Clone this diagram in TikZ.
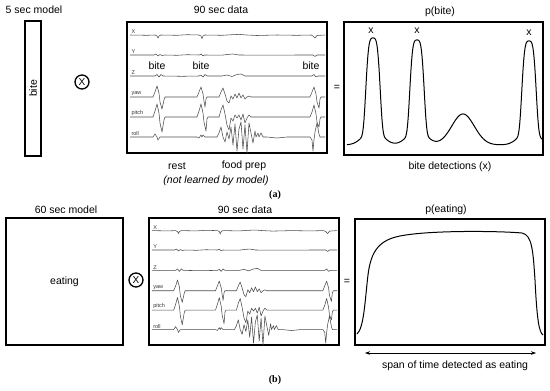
\documentclass[tikz,border=0pt]{standalone}
\usepackage{fontspec}
\setmainfont{Liberation Sans}
\newfontfamily\capfont{Liberation Serif}
\usetikzlibrary{arrows.meta}
\newcommand\datatraces[1]{%
  \foreach \yy/\lab in {13/X,33/Y,54/Z,75/yaw,95/pitch,115/roll}{
    \node[chan] (#1\lab) at (4,\yy-0.6) {\lab};
  }
  % X
  \begin{scope}[shift={(0,13)}]
  \draw[trace] plot coordinates {(3,0) (20,0.3) (28,0) (30,1) (31,3) (32,1) (34,0) (50,0.3) (60,-0.3) (72,0) (74,1) (75,3.5) (76,1) (78,0) (95,0.3) (105,-0.3) (112,-0.6) (120,0) (130,0.5) (150,0) (170,0.3) (184,0) (186,1) (188,3) (190,0.5) (198,0)};
  \end{scope}
  % Y
  \begin{scope}[shift={(0,33)}]
  \draw[trace] plot coordinates {(3,0) (27,0) (29,-1) (31,1) (33,-0.5) (35,0.5) (38,0) (50,0.3) (60,-0.3) (72,0) (74,-0.8) (76,0.8) (78,0) (95,0.2) (100,-0.5) (106,-1) (112,0) (150,0.2) (170,0) (186,0) (188,1.5) (190,0) (198,0)};
  \end{scope}
  % Z
  \begin{scope}[shift={(0,54)}]
  \draw[trace] plot coordinates {(3,0) (28,0) (30,-1.5) (32,1) (34,-1.5) (36,0) (55,0.3) (72,0) (74,-1) (76,1) (78,-1.5) (80,0) (95,0) (100,-1) (105,0.5) (110,-1.5) (114,-2) (118,0) (150,0) (185,0) (187,-1.5) (189,1) (191,0) (198,0)};
  \end{scope}
  % yaw
  \begin{scope}[shift={(0,75)}]
  \draw[trace] plot coordinates {(3,0) (26,0) (28,-5) (30,-11) (32,-4) (33,5) (35,12) (37,3) (38,0) (70,0) (72,-5) (74,-10) (76,-3) (77,4) (78,10) (79,2) (80,0) (92,0) (94,-5) (96,-9) (98,-3) (100,4) (102,6) (104,-1) (106,2) (108,-3) (110,1) (112,-4) (114,1) (116,-2) (118,2) (120,0) (122,-1) (124,0) (183,0) (185,-5) (187,-10) (189,-3) (190,5) (192,11) (193,2) (194,0) (198,0)};
  \end{scope}
  % pitch
  \begin{scope}[shift={(0,95)}]
  \draw[trace] plot coordinates {(3,0) (26,0) (28,-6) (30,-13) (32,-4) (33,6) (35,15) (37,3) (38,0) (70,0) (72,-6) (74,-13) (76,-4) (77,5) (79,14) (80,2) (81,0) (92,0) (94,-7) (96,-12) (98,-3) (100,8) (102,13) (104,1) (106,4) (108,-2) (110,1) (112,-2) (114,3) (116,-3) (118,6) (120,1) (122,-2) (124,0) (140,0) (183,0) (185,-5) (187,-12) (189,-3) (190,5) (192,10) (193,2) (194,0) (198,0)};
  \end{scope}
  % roll
  \begin{scope}[shift={(0,115)}]
  \draw[trace] plot coordinates {(3,0) (26,0) (28,-3) (30,0) (31,3) (33,0) (35,0) (70,0) (72,1) (74,-2) (75,0) (76,-2) (78,0) (90,0) (92,-4) (94,-10) (96,0) (98,5) (100,-5) (102,2) (104,-10) (106,8) (108,-13) (110,14) (112,-8) (114,-15) (116,12) (118,-12) (120,16) (122,-14) (124,-4) (126,6) (128,-6) (129,0) (131,-4) (132,0) (134,-4) (136,0) (140,0) (150,1) (160,0) (183,0) (185,3) (186,14) (187,3) (188,-5) (190,-14) (192,-3) (193,0) (198,0)};
  \end{scope}
}
\begin{document}
\begin{tikzpicture}[x=1pt,y=-1pt,
  txt/.style={font=\fontsize{10.5}{12}\selectfont, inner sep=0pt},
  itxt/.style={font=\fontsize{10.5}{12}\selectfont\itshape, inner sep=0pt},
  figcap/.style={font=\fontsize{10}{12}\selectfont\capfont\bfseries, inner sep=0pt},
  frame/.style={draw, line width=1.4pt, inner sep=0pt},
  trace/.style={draw=black!70, line width=0.55pt, line join=round},
  chan/.style={font=\fontsize{5.5}{6}\selectfont, inner sep=0.3pt, anchor=south west, text=black!80},
  otimes/.style={circle, draw, line width=1.3pt, minimum size=14pt, inner sep=0pt, font=\fontsize{10}{12}\selectfont},
  curve/.style={line width=1pt, line join=round},
  declare function={
    gq(\t,\c,\w)=exp(-(min(((\t-\c)/\w)*((\t-\c)/\w),3))*(min(((\t-\c)/\w)*((\t-\c)/\w),3)));
    gs(\t,\c,\w)=exp(-min(((\t-\c)/\w)*((\t-\c)/\w),9));
    pk(\t,\c)=0.85*gq(\t,\c,7.8)+0.15*gs(\t,\c,13);
  }]
\useasboundingbox (0,0) rectangle (550,391);
% ---------------- panel (a)
\node[txt] (tA1) at (34,10) {5 sec model};
\node[frame, rotate=90, minimum width=135pt, minimum height=16pt, font=\fontsize{10.5}{12}\selectfont] (biteBar) at (33,88.5) {bite};
\node[otimes] (mulA) at (82,82) {X};
\node[txt] (tA2) at (221,10) {90 sec data};
\node[frame, minimum width=200pt, minimum height=131pt] (dataA) at (227,87.5) {};
\begin{scope}[shift={(127,22)}]
\datatraces{a}
\end{scope}
\node[txt] (bite1) at (157,66) {bite};
\node[txt] (bite2) at (201,66) {bite};
\node[txt] (bite3) at (311,66) {bite};
\node[txt] (rest) at (177,166) {rest};
\node[txt] (food) at (244,166) {food prep};
\node[itxt] (notl) at (216,181) {(not learned by model)};
\node[txt] (eqA) at (337,88) {=};
\node[txt] (tA3) at (440,12) {p(bite)};
\node[frame, minimum width=199pt, minimum height=133pt] (pA) at (443.5,88.5) {};
\draw[curve] plot[domain=347:542, samples=300] (\x,{145-107*pk(\x,373)-105*pk(\x,417)-31*gs(\x,463,16)-104*pk(\x,529)});
\node[txt] (x1) at (371,31) {x};
\node[txt] (x2) at (417,31) {x};
\node[txt] (x3) at (529,33) {x};
\node[txt] (bd) at (450,167) {bite detections (x)};
\node[figcap] (capA) at (275,195) {(a)};
% ---------------- panel (b)
\node[txt] (tB1) at (66,210) {60 sec model};
\node[frame, minimum width=117pt, minimum height=127pt, font=\fontsize{10.5}{12}\selectfont] (eatBox) at (64.5,281.5) {eating};
\node[otimes] (mulB) at (136,280) {X};
\node[txt] (tB2) at (245,210) {90 sec data};
\node[frame, minimum width=190pt, minimum height=127pt] (dataB) at (244,281.5) {};
\begin{scope}[shift={(149,218)}, xscale=0.95, yscale=0.97]
\datatraces{b}
\end{scope}
\node[txt] (eqB) at (347,282) {=};
\node[txt] (tB3) at (446,210) {p(eating)};
\node[frame, minimum width=190pt, minimum height=126pt] (pB) at (450,282) {};
\draw[curve] (357,334) .. controls (364,328) and (365,300) .. (368,275)
  .. controls (371,250) and (380,240) .. (400,236)
  .. controls (430,230) and (500,231) .. (522,233)
  .. controls (532,235) and (533,250) .. (535,280)
  .. controls (537,320) and (539,332) .. (543,335);
\coordinate (spanL) at (365,353);
\coordinate (spanR) at (536,353);
\draw[{Stealth[length=5pt,width=3.5pt]}-{Stealth[length=5pt,width=3.5pt]}, line width=0.6pt] (spanL) -- (spanR);
\node[txt] (span) at (455,366) {span of time detected as eating};
\node[figcap] (capB) at (275,380) {(b)};
\end{tikzpicture}
\end{document}
